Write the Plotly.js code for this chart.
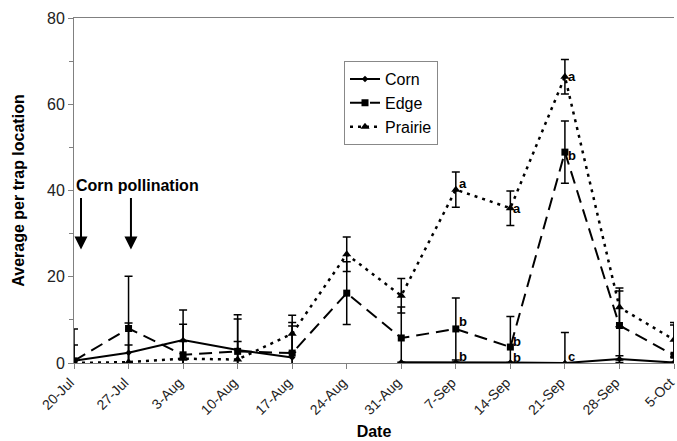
<!DOCTYPE html>
<html>
<head>
<meta charset="utf-8">
<script src="https://cdn.plot.ly/plotly-3.0.1.min.js"></script>
<style>html,body{margin:0;padding:0;background:#fff;}#chart{width:677px;height:441px;}</style>
</head>
<body>
<div id="chart"></div>
<script>
const dates = ['20-Jul','27-Jul','3-Aug','10-Aug','17-Aug','24-Aug','31-Aug','7-Sep','14-Sep','21-Sep','28-Sep','5-Oct'];
const corn = [0.5, 2.4, 5.3, 3.0, 1.3, null, 0.2, 0.2, 0.1, 0.0, 0.9, 0.1];
const cornErr = [3.7, 6.9, 7.0, 8.2, 7.3, null, 0, 0, 0, 7.1, 0.8, 0];
const edge = [0.5, 8.0, 1.9, 2.7, 2.3, 16.2, 5.8, 7.9, 3.7, 48.9, 8.7, 1.8];
const edgeErr = [7.4, 12.1, 7.1, 7.5, 7.1, 7.3, 7.2, 7.2, 7.1, 7.2, 8.0, 7.0];
const prairie = [0.0, 0.2, 1.0, 0.8, 6.8, 25.2, 15.6, 40.2, 35.9, 66.4, 12.9, 5.4];
const prairieErr = [0.5, 4.0, 4.0, 4.2, 4.3, 4.0, 4.0, 4.1, 4.0, 4.0, 4.5, 4.0];
const yTicks = [0, 20, 40, 60, 80];
// significance letters
const letterDates = ['7-Sep','14-Sep','21-Sep','21-Sep','7-Sep','7-Sep','14-Sep','14-Sep','21-Sep'];
const letterSeries = ['prairie','prairie','prairie','edge','edge','corn','edge','corn','corn'];
const letterText = ['a','a','a','b','b','b','b','b','c'];
const letterShift = [6, 0, 0, -3, 7, 6, 6, 5.5, 7];
const pollinationDates = ['20-Jul','27-Jul'];

const FONT = 'Liberation Sans, Arial, sans-serif';
const errStyle = (arr) => ({type:'data', array: arr, visible:true, color:'#000', thickness:1.5, width:4});

const traces = [
  {x: dates, y: corn, name: 'Corn', type: 'scatter', mode: 'lines+markers', connectgaps: false,
   line: {color:'#000', width:2}, marker: {symbol:'diamond', size:5, color:'#000'}, error_y: errStyle(cornErr)},
  {x: dates, y: edge, name: 'Edge', type: 'scatter', mode: 'lines+markers',
   line: {color:'#000', width:2, dash:'13px,7px'}, marker: {symbol:'square', size:7, color:'#000'}, error_y: errStyle(edgeErr)},
  {x: dates, y: prairie, name: 'Prairie', type: 'scatter', mode: 'lines+markers',
   line: {color:'#000', width:2.5, dash:'3px,5px'}, marker: {symbol:'triangle-up', size:8, color:'#000'}, error_y: errStyle(prairieErr)}
];

const seriesMap = {corn: corn, edge: edge, prairie: prairie};
const annotations = [];
letterText.forEach((t, i) => {
  const idx = dates.indexOf(letterDates[i]);
  annotations.push({x: letterDates[i], y: seriesMap[letterSeries[i]][idx], xref:'x', yref:'y',
    text: '<b>' + t + '</b>', showarrow:false, xanchor:'left', yanchor:'middle', xshift: 2, yshift: letterShift[i],
    borderpad: 0, font: {family: FONT, size: 13, color:'#000'}});
});
const arrowShift = [7, 2.4];
pollinationDates.forEach((d, i) => {
  annotations.push({x: d, y: 26.3, xref:'x', yref:'y', xshift: arrowShift[i], text:'', showarrow:true,
    ax: 0, ay: -53, arrowhead: 2, arrowsize: 1.3, arrowwidth: 2, arrowcolor:'#000'});
});
annotations.push({x: pollinationDates[0], y: 41.1, xref:'x', yref:'y', xshift: 0, xanchor:'left', yanchor:'middle',
  text:'<b>Corn pollination</b>', showarrow:false, font:{family: FONT, size: 16, color:'#000'}});

const layout = {
  width: 677, height: 441,
  margin: {l: 74, r: 3, t: 18, b: 78},
  paper_bgcolor: '#fff', plot_bgcolor: '#fff',
  font: {family: FONT, color: '#222'},
  showlegend: true,
  legend: {x: 0.45, y: 0.875, xanchor:'left', yanchor:'top', bordercolor:'#888', borderwidth:1, bgcolor:'#fff',
    font: {family: FONT, size: 16, color:'#000'}},
  xaxis: {type:'category', range: [0, 11], showgrid:false, zeroline:false, showline:true, linecolor:'#808080', linewidth:1,
    mirror: true, ticks:'outside', ticklen:5, tickcolor:'#808080', tickangle:-45, ticklabelshift: -4,
    tickfont:{family: FONT, size:14, color:'#222'},
    title: {text:'<b>Date</b>', font:{family: FONT, size:16, color:'#000'}, standoff: 8}},
  yaxis: {range:[0, 80], tickvals: yTicks, showgrid:false, zeroline:false, showline:true, linecolor:'#808080', linewidth:1,
    ticks:'outside', ticklen:5, tickcolor:'#808080', tickfont:{family: FONT, size:16, color:'#222'},
    minor: {dtick: 10, ticks:'outside', ticklen:4, tickcolor:'#808080', showgrid:false},
    title: {text:'<b>Average per trap location</b>', font:{family: FONT, size:16, color:'#000'}, standoff: 18}},
  annotations: annotations
};

Plotly.newPlot('chart', traces, layout, {displayModeBar:false, staticPlot:true});
</script>
</body>
</html>
